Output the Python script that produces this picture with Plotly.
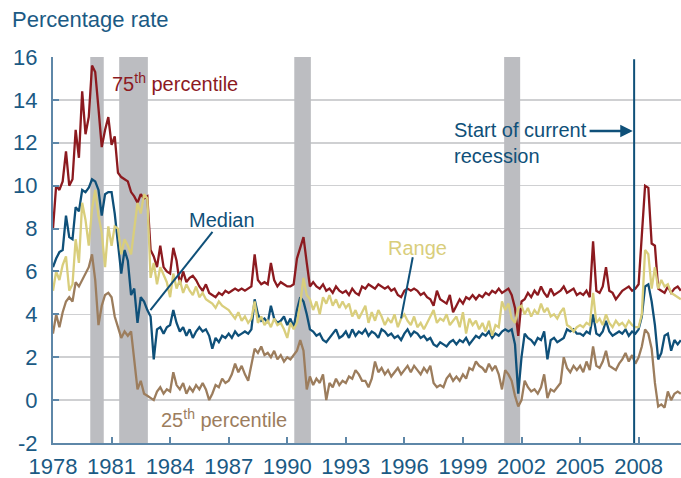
import plotly.graph_objects as go
import pandas as pd
from datetime import datetime, timedelta

# ---------------- data (bi-monthly samples, Jan 1978 - Mar 2010) ----------------
start_date = "1978-01-01"
n_points = 194

p75 = [
    8.0, 10.0, 9.8, 10.2, 11.6, 10.0,    # 1978
    10.3, 12.6, 11.3, 14.4, 12.4, 13.2,  # 1979
    15.6, 15.3, 13.6, 11.8, 12.6, 13.2,  # 1980
    11.9, 12.3, 10.6, 10.4, 10.3, 10.2,  # 1981
    9.7, 9.5, 9.2, 9.6, 9.4, 9.5,        # 1982
    7.0, 6.7, 6.2, 7.2, 6.2, 6.0,        # 1983
    5.9, 7.1, 6.5, 5.4, 6.0, 5.5,        # 1984
    5.7, 5.8, 5.6, 5.3, 5.1, 5.4,        # 1985
    5.0, 4.9, 4.8, 5.0, 4.9, 5.1,        # 1986
    5.0, 5.1, 5.2, 5.1, 5.2, 5.1,        # 1987
    5.2, 5.3, 6.8, 5.6, 5.4, 5.5,        # 1988
    5.4, 6.4, 5.6, 5.3, 5.5, 5.4,        # 1989
    5.3, 5.3, 5.4, 6.6, 7.1, 7.6,        # 1990
    6.4, 5.3, 5.5, 5.3, 5.2, 5.4,        # 1991
    5.1, 5.2, 5.0, 5.3, 5.1, 5.0,        # 1992
    5.1, 4.9, 5.2, 5.0, 4.9, 5.3,        # 1993
    5.2, 5.4, 5.3, 5.2, 5.4, 5.3,        # 1994
    5.2, 5.3, 5.1, 5.2, 4.9, 4.8,        # 1995
    5.1, 5.2, 5.1, 5.2, 5.1, 4.9,        # 1996
    5.0, 4.8, 4.7, 4.4, 5.1, 4.7,        # 1997
    4.6, 4.5, 4.9, 4.1, 4.4, 4.7,        # 1998
    4.5, 4.8, 4.7, 4.9, 4.7, 4.9,        # 1999
    4.8, 5.0, 4.9, 5.1, 5.0, 5.2,        # 2000
    5.0, 5.1, 5.2, 4.9, 4.3, 3.0,        # 2001
    4.6, 4.7, 5.0, 4.8, 5.1, 4.9,        # 2002
    5.3, 5.0, 4.8, 5.2, 4.9, 5.0,        # 2003
    5.1, 5.3, 5.0, 5.1, 5.2, 4.9,        # 2004
    5.0, 4.9, 5.1, 4.8, 7.4, 5.1,        # 2005
    5.0, 5.3, 6.2, 5.1, 5.0, 4.7,        # 2006
    4.9, 5.1, 5.2, 5.3, 5.1, 5.2,        # 2007
    5.4, 7.8, 10.0, 9.9, 7.3, 7.2,       # 2008
    5.2, 5.1, 5.0, 5.3, 5.0, 5.2,        # 2009
    5.3, 5.1,                            # 2010
]

median = [
    6.2, 6.6, 6.9, 7.0, 8.6, 7.6,        # 1978
    7.5, 9.0, 8.8, 9.8, 9.7, 9.9,        # 1979
    10.3, 10.2, 9.8, 8.6, 9.6, 9.7,      # 1980
    9.7, 8.7, 7.3, 5.9, 7.0, 6.5,        # 1981
    4.9, 5.2, 3.6, 4.8, 4.6, 4.2,        # 1982
    3.9, 1.9, 3.3, 3.4, 3.1, 3.4,        # 1983
    3.5, 4.2, 3.6, 3.2, 3.4, 3.0,        # 1984
    3.3, 2.9, 3.2, 3.4, 3.2, 3.3,        # 1985
    3.0, 2.4, 2.9, 2.7, 3.0, 2.9,        # 1986
    3.1, 2.9, 3.2, 3.0, 3.1, 3.2,        # 1987
    3.1, 3.3, 4.7, 4.0, 3.7, 3.8,        # 1988
    3.6, 4.4, 3.8, 3.6, 3.7, 3.9,        # 1989
    3.5, 3.8, 3.4, 4.2, 4.8, 4.6,        # 1990
    4.0, 3.3, 3.2, 3.0, 3.1, 2.8,        # 1991
    2.7, 2.9, 3.1, 3.3, 2.9, 3.0,        # 1992
    3.2, 2.9, 3.3, 3.0, 3.2, 3.1,        # 1993
    3.3, 3.0, 3.2, 3.1, 2.9, 3.3,        # 1994
    3.2, 3.0, 3.1, 2.9, 3.0, 2.8,        # 1995
    3.1, 3.3, 3.0, 3.2, 3.1, 2.9,        # 1996
    3.0, 2.8, 2.9, 2.6, 2.5, 2.7,        # 1997
    2.6, 2.5, 2.7, 2.8, 2.6, 2.8,        # 1998
    2.7, 2.9, 2.6, 2.8, 3.0, 2.9,        # 1999
    3.1, 3.0, 3.2, 2.9, 3.1, 3.0,        # 2000
    3.2, 3.3, 3.2, 3.3, 2.6, 0.3,        # 2001
    2.0, 3.1, 2.9, 2.8, 2.6, 2.9,        # 2002
    2.8, 3.2, 1.9, 2.8, 2.9, 2.7,        # 2003
    2.8, 2.9, 3.3, 3.2, 3.3, 3.1,        # 2004
    3.1, 3.0, 3.2, 3.1, 4.0, 3.1,        # 2005
    3.0, 3.2, 3.7, 3.2, 3.0, 3.1,        # 2006
    3.2, 3.1, 3.3, 3.0, 3.2, 3.1,        # 2007
    3.3, 3.9, 5.3, 5.4, 4.6, 3.5,        # 2008
    1.9, 2.2, 3.0, 3.1, 2.3, 2.8,        # 2009
    2.6, 2.8,                            # 2010
]

range_ = [
    5.1, 6.0, 5.6, 6.3, 6.7, 5.1,        # 1978
    5.4, 7.5, 6.4, 9.2, 8.4, 7.2,        # 1979
    8.9, 9.8, 8.6, 7.8, 6.2, 8.1,        # 1980
    7.2, 8.1, 8.0, 6.8, 7.5, 7.2,        # 1981
    6.8, 8.1, 9.2, 8.7, 9.6, 9.4,        # 1982
    5.7, 6.4, 5.4, 6.2, 5.8, 5.5,        # 1983
    4.8, 5.9, 5.2, 5.6, 5.0, 5.4,        # 1984
    5.1, 4.9, 5.3, 4.8, 5.0, 4.7,        # 1985
    4.6, 4.5, 4.3, 4.6, 4.4, 4.3,        # 1986
    4.2, 4.0, 3.8, 4.1, 3.7, 3.9,        # 1987
    3.6, 3.8, 4.6, 3.6, 3.9, 3.5,        # 1988
    3.7, 3.4, 3.8, 3.5, 3.6, 3.3,        # 1989
    2.9, 3.6, 3.3, 3.6, 4.5, 5.7,        # 1990
    4.9, 4.7, 4.2, 4.6, 4.0, 4.8,        # 1991
    4.5, 4.9, 4.4, 4.7, 4.3, 4.6,        # 1992
    4.3, 4.5, 3.9, 4.2, 3.8, 4.1,        # 1993
    4.4, 3.6, 4.1, 3.7, 4.2, 3.9,        # 1994
    3.5, 3.8, 3.6, 4.0, 3.4, 3.8,        # 1995
    4.0, 3.7, 3.5, 3.9, 3.4, 3.6,        # 1996
    3.3, 3.6, 3.9, 4.2, 3.6, 3.8,        # 1997
    3.7, 4.0, 3.5, 3.7, 3.9, 3.4,        # 1998
    4.1, 3.1, 3.8, 3.5, 3.7, 3.3,        # 1999
    3.6, 3.2, 3.7, 3.0, 3.5, 3.4,        # 2000
    4.6, 4.2, 4.5, 3.8, 3.6, 4.3,        # 2001
    4.4, 4.0, 4.3, 3.9, 4.2, 4.0,        # 2002
    4.5, 4.1, 4.3, 3.9, 4.0, 3.8,        # 2003
    4.1, 4.3, 3.5, 3.4, 3.2, 3.4,        # 2004
    3.5, 3.4, 3.6, 3.5, 5.0, 3.6,        # 2005
    3.8, 3.5, 4.0, 3.6, 3.4, 3.7,        # 2006
    3.5, 3.6, 3.4, 3.7, 3.5, 3.4,        # 2007
    3.4, 4.0, 7.0, 6.8, 5.2, 6.2,        # 2008
    5.2, 5.6, 5.3, 5.4, 5.0, 4.9,        # 2009
    4.8, 4.7,                            # 2010
]

p25 = [
    3.1, 4.0, 3.4, 4.1, 4.6, 4.8,        # 1978
    4.6, 5.5, 5.3, 5.6, 5.9, 6.2,        # 1979
    6.8, 5.6, 3.5, 4.4, 4.9, 5.0,        # 1980
    4.8, 3.9, 3.4, 2.9, 3.2, 3.0,        # 1981
    3.2, 2.0, 0.5, 0.9, 0.3, 0.2,        # 1982
    0.1, 0.0, 0.4, 0.6, 0.3, 0.5,        # 1983
    0.4, 1.3, 0.7, 0.5, 0.8, 0.3,        # 1984
    0.6, 0.4, 0.7, 0.5, 0.8, 0.5,        # 1985
    0.0, 0.3, 0.7, 0.6, 1.0, 0.8,        # 1986
    0.9, 1.2, 1.7, 1.3, 1.6, 1.2,        # 1987
    0.9, 1.6, 2.4, 2.2, 2.5, 2.1,        # 1988
    2.2, 2.0, 2.3, 1.9, 2.1, 1.8,        # 1989
    2.0, 1.9, 2.1, 2.3, 2.8, 2.3,        # 1990
    0.5, 1.1, 0.7, 1.0, 0.8, 1.2,        # 1991
    0.0, 0.8, 0.6, 1.0, 0.7, 0.9,        # 1992
    0.8, 1.1, 1.0, 1.4, 1.2, 0.9,        # 1993
    0.9, 0.6, 1.0, 1.8, 1.3, 1.5,        # 1994
    1.2, 1.4, 1.1, 1.3, 1.5, 1.2,        # 1995
    1.4, 1.6, 1.3, 1.6, 1.4, 1.2,        # 1996
    1.5, 1.3, 1.6, 0.8, 0.6, 0.7,        # 1997
    0.6, 1.0, 1.2, 0.9, 1.1, 0.9,        # 1998
    1.2, 1.0, 1.5, 1.4, 1.8, 1.6,        # 1999
    1.5, 1.3, 1.7, 1.4, 1.6, 1.2,        # 2000
    0.5, 1.4, 1.2, 0.9, 0.2, -0.3,       # 2001
    0.0, 0.9, 0.6, 0.4, 0.5, 0.3,        # 2002
    0.6, 1.2, 0.1, 0.5, 0.4, 0.6,        # 2003
    0.8, 2.0, 1.5, 1.3, 1.6, 1.4,        # 2004
    1.6, 1.3, 1.8, 1.4, 2.5, 1.6,        # 2005
    1.5, 1.8, 2.3, 1.6, 1.5, 1.4,        # 2006
    1.7, 1.9, 2.2, 1.8, 2.1, 1.7,        # 2007
    2.0, 2.5, 3.3, 3.1, 2.4, 0.8,        # 2008
    -0.3, -0.2, -0.35, 0.4, 0.0, 0.3,    # 2009
    0.4, 0.3,                            # 2010
]

recessions = [(1979.91, 1980.60), (1981.39, 1982.86), (1990.36, 1991.21), (2001.11, 2001.93)]
current_recession_start = 2007.77
tick_years = list(range(1978, 2009, 3))
y_ticks = list(range(-2, 17, 2))

for s in (p75, median, range_, p25):
    assert len(s) == n_points

dates = pd.date_range(start_date, periods=n_points, freq="2MS")


def dy(y):
    """decimal year -> datetime"""
    yr = int(y)
    base = datetime(yr, 1, 1)
    days = (datetime(yr + 1, 1, 1) - base).days
    return base + timedelta(days=(y - yr) * days)


# ---------------- styling ----------------
FONT = "Liberation Sans, Arial, sans-serif"
C75 = "#8c1a1f"
CMED = "#0f5079"
CRANGE = "#d9ce7c"
C25 = "#9c7d5d"
CTEXT = "#1b5a84"
CAXIS = "#5e87a8"
CGRID = "#cfd0d2"
CBAR = "#bcbdc1"

fig = go.Figure()
for name, vals, col in [("25th percentile", p25, C25), ("Median", median, CMED),
                        ("75th percentile", p75, C75), ("Range", range_, CRANGE)]:
    fig.add_trace(go.Scatter(x=dates, y=vals, mode="lines", name=name,
                             line=dict(color=col, width=2.3), showlegend=False))

shapes = []
for a, b in recessions:
    shapes.append(dict(type="rect", xref="x", yref="y", x0=dy(a), x1=dy(b), y0=-2, y1=16,
                       fillcolor=CBAR, line=dict(width=0), layer="between"))
shapes.append(dict(type="line", xref="x", yref="y", x0=dy(current_recession_start),
                   x1=dy(current_recession_start), y0=-2, y1=15.9,
                   line=dict(color=CMED, width=2)))
# leader lines
shapes.append(dict(type="line", xref="x", yref="y", x0=dy(1986.17), y0=7.84, x1=dy(1982.99), y1=4.2,
                   line=dict(color=CMED, width=2)))
shapes.append(dict(type="line", xref="x", yref="y", x0=dy(1996.43), y0=6.66, x1=dy(1995.83), y1=3.81,
                   line=dict(color=CMED, width=2)))

annotations = [
    dict(xref="paper", yref="paper", x=-0.069, y=1.097, xanchor="left", yanchor="middle",
         text="Percentage rate", showarrow=False, font=dict(size=22, color=CTEXT, family=FONT)),
    dict(xref="x", yref="y", x=dy(1980.9), y=14.83, xanchor="left", yanchor="middle",
         text="75<sup>th</sup> percentile", showarrow=False, font=dict(size=20, color=C75, family=FONT)),
    dict(xref="x", yref="y", x=dy(1986.64), y=8.4, xanchor="center", yanchor="middle",
         text="Median", showarrow=False, font=dict(size=20, color=CMED, family=FONT)),
    dict(xref="x", yref="y", x=dy(1996.68), y=7.1, xanchor="center", yanchor="middle",
         text="Range", showarrow=False, font=dict(size=20, color=CRANGE, family=FONT)),
    dict(xref="x", yref="y", x=dy(1986.75), y=-0.84, xanchor="center", yanchor="middle",
         text="25<sup>th</sup> percentile", showarrow=False, font=dict(size=20, color=C25, family=FONT)),
    dict(xref="x", yref="y", x=dy(1998.43), y=12.0, xanchor="left", yanchor="middle", align="left",
         text="Start of current<br>recession", showarrow=False,
         font=dict(size=20, color=CMED, family=FONT)),
    dict(xref="x", yref="y", x=dy(2007.70), y=12.55, ax=dy(2005.41), ay=12.55,
         axref="x", ayref="y", text="", showarrow=True, arrowhead=2, arrowsize=1,
         arrowwidth=2.5, arrowcolor=CMED),
]

fig.update_layout(
    width=681, height=478,
    margin=dict(l=53, r=0, t=57, b=35, autoexpand=False),
    paper_bgcolor="white", plot_bgcolor="white",
    font=dict(family=FONT, size=22, color=CTEXT),
    shapes=shapes, annotations=annotations,
    xaxis=dict(type="date", range=[dy(1978.0), dy(2010.17)], automargin=False,
               tickvals=[datetime(y, 1, 1) for y in tick_years],
               ticktext=[str(y) for y in tick_years],
               showgrid=False, zeroline=False,
               showline=True, linecolor=CAXIS, linewidth=2,
               ticks="inside", ticklen=6, tickwidth=2, tickcolor=CAXIS,
               tickfont=dict(size=22, color=CTEXT, family=FONT), ticklabelstandoff=3),
    yaxis=dict(range=[-2, 16], tickvals=y_ticks, ticktext=[str(v) for v in y_ticks],
               automargin=False,
               showgrid=True, gridcolor=CGRID, gridwidth=1.5, zeroline=False,
               showline=True, linecolor=CAXIS, linewidth=2,
               ticks="inside", ticklen=6, tickwidth=2, tickcolor=CAXIS,
               tickfont=dict(size=22, color=CTEXT, family=FONT), ticklabelstandoff=9),
)

fig.write_html("out.html", config={"displayModeBar": False, "staticPlot": True})

# remove the browser's default 8px body margin so the figure sits at the page origin
with open("out.html", "r", encoding="utf-8") as f:
    html = f.read()
html = html.replace("<head>", "<head><style>html,body{margin:0;padding:0;overflow:hidden;}</style>", 1)
with open("out.html", "w", encoding="utf-8") as f:
    f.write(html)
